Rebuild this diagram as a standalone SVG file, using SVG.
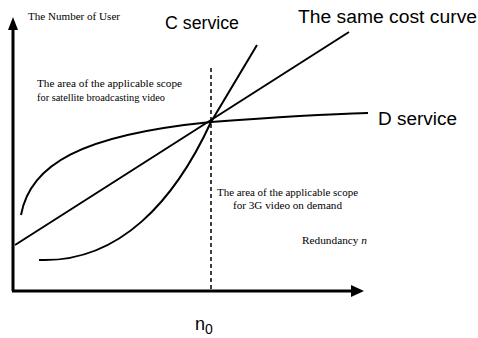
<svg xmlns="http://www.w3.org/2000/svg" width="478" height="338" viewBox="0 0 478 338">
<style>
.curve{fill:none;stroke:#000;stroke-width:2}
.axis{fill:none;stroke:#000;stroke-width:3}
.serif{font-family:"Liberation Serif","Times New Roman",serif;font-size:11px;fill:#000}
.sans{font-family:"Liberation Sans",Arial,sans-serif;font-size:18px;fill:#000}
</style>
<rect width="478" height="338" fill="#fff"/>
<g id="connectors">
<path class="axis" d="M13,291 V28"/>
<polygon points="13,17 8,30 18,30" fill="#000"/>
<path class="axis" d="M12,291 H352"/>
<polygon points="364,291 351,285 351,297" fill="#000"/>
<path d="M211,68 V290" fill="none" stroke="#000" stroke-width="1.5" stroke-dasharray="4,3"/>
<path id="same-cost" class="curve" d="M15,245 L349,32"/>
<path id="d-service" class="curve" d="M21,215 C30,165 80,135 211,122 C290,116 330,114 368,113"/>
<path id="c-service" class="curve" d="M39,260 C120,263 175,200 211,122 L257,45"/>
</g>
<g id="label-y"><text class="serif" x="28" y="20" textLength="92" lengthAdjust="spacingAndGlyphs">The Number of User</text></g>
<g id="label-c"><text class="sans" x="165" y="29" textLength="74" lengthAdjust="spacingAndGlyphs">C service</text></g>
<g id="label-same"><text class="sans" x="298" y="23" textLength="179" lengthAdjust="spacingAndGlyphs">The same cost curve</text></g>
<g id="label-d"><text class="sans" x="378" y="125" textLength="79" lengthAdjust="spacingAndGlyphs">D service</text></g>
<g id="area-sat"><text class="serif" x="37" y="87" textLength="145" lengthAdjust="spacingAndGlyphs">The area of the applicable scope</text><text class="serif" x="37" y="101" textLength="128" lengthAdjust="spacingAndGlyphs">for satellite broadcasting video</text></g>
<g id="area-3g"><text class="serif" x="217" y="196" textLength="141" lengthAdjust="spacingAndGlyphs">The area of the applicable scope</text><text class="serif" x="233" y="209" textLength="109" lengthAdjust="spacingAndGlyphs">for 3G video on demand</text></g>
<g id="label-x"><text class="serif" x="302" y="244" textLength="65" lengthAdjust="spacingAndGlyphs">Redundancy <tspan font-style="italic">n</tspan></text></g>
<g id="label-n0"><text class="sans" x="195" y="330" font-size="21">n<tspan font-size="14" dy="4">0</tspan></text></g>
</svg>
